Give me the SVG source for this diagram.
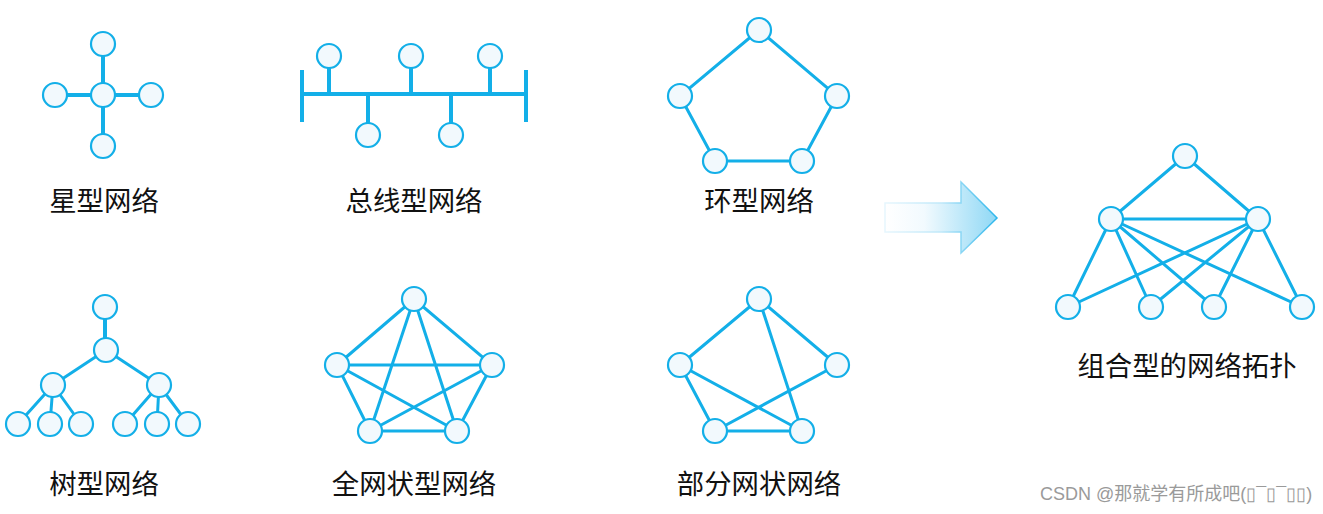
<svg xmlns="http://www.w3.org/2000/svg" width="1323" height="514" viewBox="0 0 1323 514">
<style>
.n{fill:#f2f9fd;stroke:#13afe8;stroke-width:2.2}
.e{stroke:#13afe8;stroke-width:3;fill:none;stroke-linecap:butt}
.t{stroke:#13afe8;stroke-width:4;fill:none}
.lbl{font-family:"Noto Sans CJK SC","Noto Sans",sans-serif;font-size:27.4px;fill:#111;text-anchor:middle}
.wm{font-family:"Liberation Sans","Noto Sans CJK SC",sans-serif;font-size:18px;fill:#9a9a9a}
</style>
<defs>
<linearGradient id="ag" x1="0" y1="0" x2="1" y2="0">
<stop offset="0" stop-color="#ffffff"/>
<stop offset="0.35" stop-color="#f2fafe"/>
<stop offset="1" stop-color="#8fd8f5"/>
</linearGradient>
<linearGradient id="as" x1="0" y1="0" x2="1" y2="0">
<stop offset="0" stop-color="#e6f6fd"/>
<stop offset="0.5" stop-color="#bfe8f9"/>
<stop offset="1" stop-color="#2bb6ec"/>
</linearGradient>
</defs>
<g id="connectors">
<path class="t" d="M103 56V134M67 95H139"/>
<path class="t" d="M302 94H526M302 70V122M526 70V122M329 68V94M411 68V94M490 68V94M368 94V123M451 94V123"/>
<path class="e" d="M759 30L680 96L715 161L802 161L837 96Z"/>
<path class="t" d="M105 319V338"/>
<path class="e" d="M106 350L53 385M106 350L159 385M53 385L18 424M53 385L50 424M53 385L81 424M159 385L125 424M159 385L157 424M159 385L188 424"/>
<path class="e" d="M414 299L337 365L370 431L457 431L492 365Z M414 299L370 431M414 299L457 431M337 365L492 365M337 365L457 431M492 365L370 431"/>
<path class="e" d="M759 299L680 365M759 299L837 365M759 299L802 431M680 365L802 431M680 365L715 431M837 365L715 431M715 431L802 431"/>
<path class="e" d="M1185 156L1111 219M1185 156L1258 219M1111 219L1258 219M1111 219L1068 307M1111 219L1151 307M1111 219L1214 307M1111 219L1302 307M1258 219L1068 307M1258 219L1151 307M1258 219L1214 307M1258 219L1302 307"/>
</g>
<g id="star">
<circle class="n" cx="103" cy="44" r="12"/>
<circle class="n" cx="55" cy="95" r="12"/>
<circle class="n" cx="103" cy="95" r="12"/>
<circle class="n" cx="151" cy="95" r="12"/>
<circle class="n" cx="103" cy="146" r="12"/>
<text class="lbl" x="104" y="211">星型网络</text>
</g>
<g id="bus">
<circle class="n" cx="329" cy="56" r="12"/>
<circle class="n" cx="411" cy="56" r="12"/>
<circle class="n" cx="490" cy="56" r="12"/>
<circle class="n" cx="368" cy="135" r="12"/>
<circle class="n" cx="451" cy="135" r="12"/>
<text class="lbl" x="414" y="211">总线型网络</text>
</g>
<g id="ring">
<circle class="n" cx="759" cy="30" r="12"/>
<circle class="n" cx="680" cy="96" r="12"/>
<circle class="n" cx="837" cy="96" r="12"/>
<circle class="n" cx="715" cy="161" r="12"/>
<circle class="n" cx="802" cy="161" r="12"/>
<text class="lbl" x="759" y="211">环型网络</text>
</g>
<g id="tree">
<circle class="n" cx="105" cy="307" r="12"/>
<circle class="n" cx="106" cy="350" r="12"/>
<circle class="n" cx="53" cy="385" r="12"/>
<circle class="n" cx="159" cy="385" r="12"/>
<circle class="n" cx="18" cy="424" r="12"/>
<circle class="n" cx="50" cy="424" r="12"/>
<circle class="n" cx="81" cy="424" r="12"/>
<circle class="n" cx="125" cy="424" r="12"/>
<circle class="n" cx="157" cy="424" r="12"/>
<circle class="n" cx="188" cy="424" r="12"/>
<text class="lbl" x="104" y="494">树型网络</text>
</g>
<g id="fullmesh">
<circle class="n" cx="414" cy="299" r="12"/>
<circle class="n" cx="337" cy="365" r="12"/>
<circle class="n" cx="492" cy="365" r="12"/>
<circle class="n" cx="370" cy="431" r="12"/>
<circle class="n" cx="457" cy="431" r="12"/>
<text class="lbl" x="414" y="494">全网状型网络</text>
</g>
<g id="partialmesh">
<circle class="n" cx="759" cy="299" r="12"/>
<circle class="n" cx="680" cy="365" r="12"/>
<circle class="n" cx="837" cy="365" r="12"/>
<circle class="n" cx="715" cy="431" r="12"/>
<circle class="n" cx="802" cy="431" r="12"/>
<text class="lbl" x="759" y="494">部分网状网络</text>
</g>
<g id="arrow">
<path d="M885 203H961V182L997 218L961 253V232H885Z" fill="url(#ag)" stroke="url(#as)" stroke-width="1.5"/>
</g>
<g id="combined">
<circle class="n" cx="1185" cy="156" r="12"/>
<circle class="n" cx="1111" cy="219" r="12"/>
<circle class="n" cx="1258" cy="219" r="12"/>
<circle class="n" cx="1068" cy="307" r="12"/>
<circle class="n" cx="1151" cy="307" r="12"/>
<circle class="n" cx="1214" cy="307" r="12"/>
<circle class="n" cx="1302" cy="307" r="12"/>
<text class="lbl" x="1187" y="376">组合型的网络拓扑</text>
</g>
<text class="wm" x="1040" y="500">CSDN @那就学有所成吧(▯¯▯¯▯▯)</text>
</svg>
